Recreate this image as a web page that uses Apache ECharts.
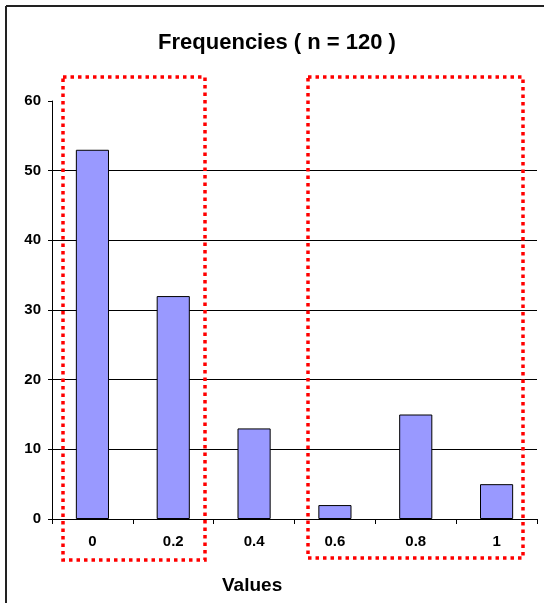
<!DOCTYPE html>
<html>
<head>
<meta charset="utf-8">
<script src="https://cdn.jsdelivr.net/npm/echarts@6/dist/echarts.min.js"></script>
<style>
  html, body { margin: 0; padding: 0; background: #fff; }
  #chart { width: 544px; height: 603px; }
</style>
</head>
<body>
<div id="chart"></div>
<script>
// Histogram of observed values
const categories = ['0', '0.2', '0.4', '0.6', '0.8', '1'];
const frequencies = [53, 32, 13, 2, 15, 5];
const titleText = 'Frequencies ( n = 120 )';
const xAxisTitle = 'Values';
const yMin = 0, yMax = 60, yStep = 10;

const FONT = 'Arial, "Liberation Sans", sans-serif';

const chart = echarts.init(document.getElementById('chart'), null, { renderer: 'canvas' });

chart.setOption({
  animation: false,
  backgroundColor: '#ffffff',
  title: {
    text: titleText,
    left: 272,
    top: 27,
    textAlign: 'center',
    textStyle: { fontFamily: FONT, fontSize: 22, fontWeight: 'bold', color: '#000' }
  },
  grid: { left: 52, right: 7, top: 101, bottom: 84 },
  xAxis: {
    type: 'category',
    data: categories,
    axisLine: { lineStyle: { color: '#000', width: 1 } },
    axisTick: { show: true, length: 5, lineStyle: { color: '#000' } },
    axisLabel: { margin: 15, fontFamily: FONT, fontSize: 15, fontWeight: 'bold', color: '#000' },
    splitLine: { show: false }
  },
  yAxis: {
    type: 'value',
    min: yMin,
    max: yMax,
    interval: yStep,
    axisLine: { show: true, lineStyle: { color: '#000', width: 1 } },
    axisTick: { show: true, length: 4, lineStyle: { color: '#000' } },
    axisLabel: { margin: 11, fontFamily: FONT, fontSize: 15, fontWeight: 'bold', color: '#000' },
    splitLine: { show: true, showMaxLine: false, lineStyle: { color: '#000', width: 1 } }
  },
  series: [{
    type: 'bar',
    data: frequencies,
    barWidth: '41%',
    itemStyle: { color: '#9999FF', borderColor: '#000', borderWidth: 1 }
  }],
  graphic: [
    // frame lines along top and left
    { type: 'line', shape: { x1: 6, y1: 6, x2: 544, y2: 6 }, style: { stroke: '#222', lineWidth: 2 } },
    { type: 'line', shape: { x1: 6, y1: 6, x2: 6, y2: 603 }, style: { stroke: '#222', lineWidth: 2 } },
    // axis title
    {
      type: 'text', left: 222, top: 576,
      style: { text: xAxisTitle, font: 'bold 19px ' + FONT, fill: '#000' }
    },
    // dotted highlight boxes
    {
      type: 'rect', shape: { x: 63, y: 77, width: 142, height: 483 },
      style: { fill: 'none', stroke: '#FF0000', lineWidth: 3.5, lineDash: [3.5, 4] }, z: 100
    },
    {
      type: 'rect', shape: { x: 308, y: 77, width: 215, height: 481 },
      style: { fill: 'none', stroke: '#FF0000', lineWidth: 3.5, lineDash: [3.5, 4] }, z: 100
    }
  ]
});
</script>
</body>
</html>
